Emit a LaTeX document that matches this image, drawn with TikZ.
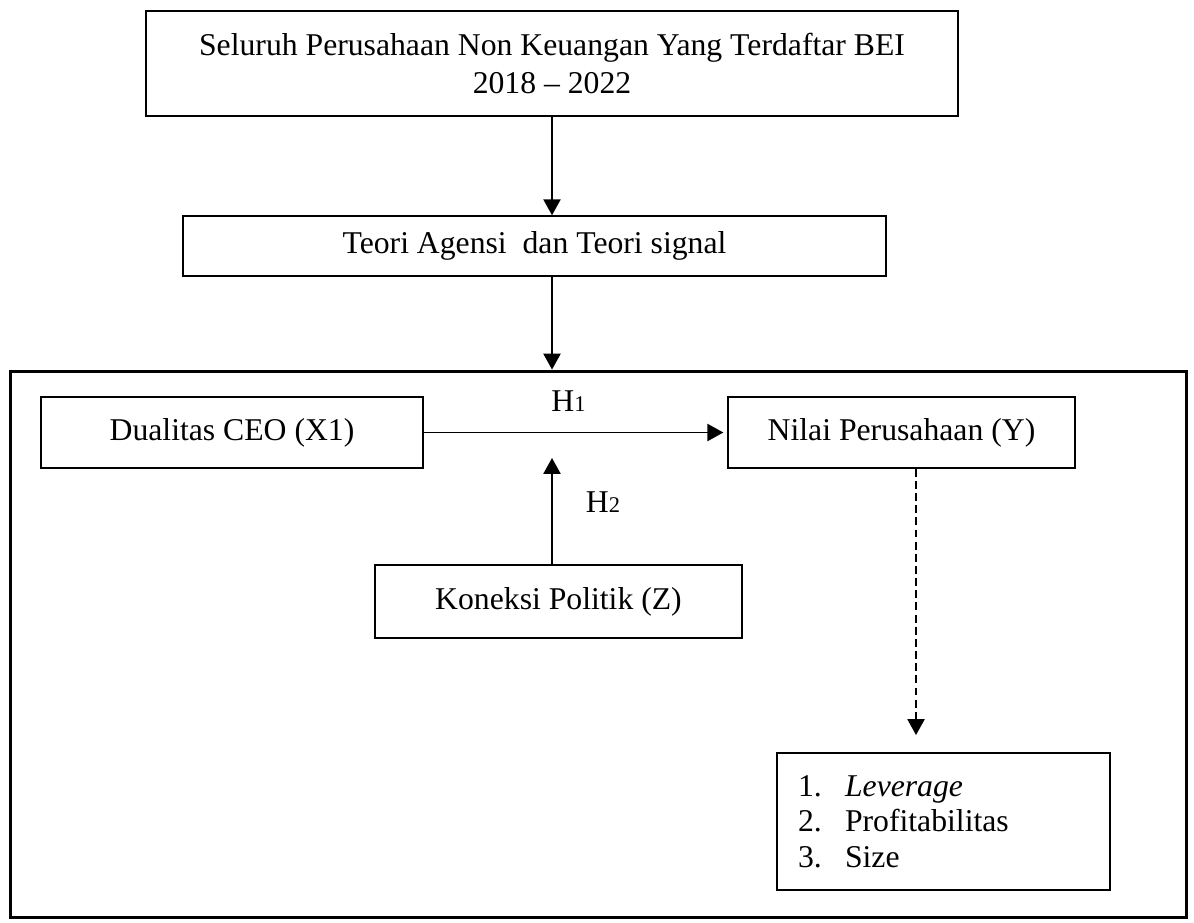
\documentclass[tikz,border=0pt]{standalone}
\usepackage{fontspec}
\setmainfont{Liberation Serif}
\usetikzlibrary{arrows.meta}

\newcommand{\kecil}[1]{{\fontsize{8.5}{10}\selectfont #1}}

\begin{document}
\begin{tikzpicture}[x=0.0133cm,y=-0.0133cm,
		kotak/.style={draw,line width=0.6pt,inner sep=0pt,align=center,font=\fontsize{12}{14.4}\selectfont},
		panah/.style={-{Triangle[length=6pt,width=6.5pt]},line width=0.55pt},
		hipotesis/.style={inner sep=0pt,font=\fontsize{12}{14}\selectfont}]
		\useasboundingbox (0,0) rectangle (1194,922);
		\node[kotak,minimum width=10.80cm,minimum height=1.397cm] (seluruh) at (552,63.5) {Seluruh Perusahaan Non Keuangan Yang Terdaftar BEI\\2018 -- 2022};
		\node[kotak,minimum width=9.35cm,minimum height=0.798cm] (teori) at (534.5,246) {Teori Agensi\ \ dan Teori signal};
		\node[draw,line width=1.2pt,inner sep=0pt,minimum width=15.654cm,minimum height=7.275cm] (kerangka) at (598.5,644.5) {};
		\node[kotak,minimum width=5.081cm,minimum height=0.944cm] (dualitas) at (232,432.5) {Dualitas CEO (X1)};
		\node[kotak,minimum width=4.615cm,minimum height=0.944cm] (nilai) at (901.5,432.5) {Nilai Perusahaan (Y)};
		\node[kotak,minimum width=4.881cm,minimum height=0.971cm] (koneksi) at (558.5,601.5) {Koneksi Politik (Z)};
		\node[kotak,minimum width=4.429cm,minimum height=1.822cm,align=left,inner xsep=0.279cm,text width=3.87cm,font=\fontsize{12}{13.4}\selectfont] (indikator) at (943.5,821.5)
			{\makebox[0.625cm][l]{1.}\textit{Leverage}\\\makebox[0.625cm][l]{2.}Profitabilitas\\\makebox[0.625cm][l]{3.}Size};
		\node[hipotesis] (h1) at (568.5,401.5) {H\kecil{1}};
		\node[hipotesis] (h2) at (603,502) {H\kecil{2}};
		\coordinate (atas) at (552,458);
		\coordinate (ujung) at (916,735);
		%
		\path[panah]
		(seluruh.south) edge (seluruh.south |- teori.north)
		(teori.south -| seluruh.south) edge (kerangka.north -| seluruh.south)
		(dualitas.east) edge[shorten >=1.5pt] (nilai.west)
		(koneksi.north -| atas) edge (atas)
		(nilai.south -| ujung) edge[dash pattern=on 3pt off 1.6pt] (ujung);
\end{tikzpicture}
\end{document}
